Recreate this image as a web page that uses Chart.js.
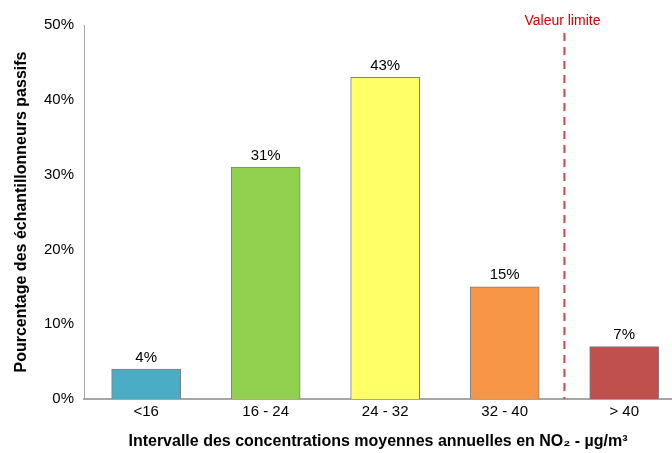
<!DOCTYPE html>
<html>
<head>
<meta charset="utf-8">
<script src="https://cdn.jsdelivr.net/npm/chart.js@4.4.1/dist/chart.umd.min.js"></script>
<style>
  html, body { margin: 0; padding: 0; background: #fff; }
  #wrap { width: 672px; height: 453px; }
</style>
</head>
<body>
<div id="wrap"><canvas id="chart" width="672" height="453"></canvas></div>
<script>
// data
const categories = ["<16", "16 - 24", "24 - 32", "32 - 40", "> 40"];
const shares = [4, 31, 43, 15, 7];
const barColors = ["#4bacc6", "#92d050", "#ffff66", "#f79646", "#c0504d"];
const yTicks = [0, 10, 20, 30, 40, 50];
const limitPosition = 3.5; // between "32 - 40" and "> 40"
const limitLabel = "Valeur limite";

const font = "Arial, 'Liberation Sans', sans-serif";

// value labels above each bar
const barLabels = {
  id: "barLabels",
  afterDatasetsDraw(chart) {
    const ctx = chart.ctx;
    const meta = chart.getDatasetMeta(0);
    ctx.save();
    ctx.font = "15px " + font;
    ctx.fillStyle = "#000";
    ctx.textAlign = "center";
    ctx.textBaseline = "bottom";
    meta.data.forEach((bar, i) => {
      ctx.fillText(shares[i] + "%", bar.x, bar.y - 4);
    });
    ctx.restore();
  }
};

// dashed limit line + its label
const limitLine = {
  id: "limitLine",
  afterDatasetsDraw(chart) {
    const ctx = chart.ctx;
    const x = chart.scales.x.getPixelForValue(limitPosition);
    const area = chart.chartArea;
    ctx.save();
    ctx.strokeStyle = "#c9474b";
    ctx.lineWidth = 2;
    ctx.setLineDash([8, 6]);
    ctx.beginPath();
    ctx.moveTo(x, area.top + 8);
    ctx.lineTo(x, area.bottom);
    ctx.stroke();
    ctx.setLineDash([]);
    ctx.font = "14px " + font;
    ctx.fillStyle = "#d00000";
    ctx.textAlign = "center";
    ctx.textBaseline = "alphabetic";
    ctx.fillText(limitLabel, x - 2, area.top);
    ctx.restore();
  }
};

new Chart(document.getElementById("chart"), {
  type: "bar",
  data: {
    datasets: [{
      data: shares.map((v, i) => ({ x: i, y: v })),
      backgroundColor: barColors,
      borderColor: "#7f7f7f",
      borderWidth: 1,
      barThickness: 69
    }]
  },
  options: {
    responsive: false,
    animation: false,
    layout: { padding: { top: 25, right: 0, left: 0, bottom: 0 } },
    plugins: { legend: { display: false }, tooltip: { enabled: false } },
    scales: {
      x: {
        type: "linear",
        offset: false,
        min: -0.52,
        max: 4.4,
        afterBuildTicks: (s) => { s.ticks = categories.map((_, i) => ({ value: i })); },
        afterFit: (s) => { s.height = 54; },
        grid: { display: false, drawTicks: false },
        border: { display: true, color: "#a6a6a6", width: 2 },
        ticks: {
          padding: 4,
          maxRotation: 0,
          autoSkip: false,
          color: "#000",
          font: { family: font, size: 15 },
          callback: (v) => categories[v] ?? ""
        },
        title: {
          display: true,
          text: "Intervalle des concentrations moyennes annuelles en NO₂ - µg/m³",
          color: "#000",
          font: { family: font, size: 16, weight: "bold" },
          padding: { top: 2, bottom: 2 }
        }
      },
      y: {
        min: 0,
        max: 50,
        afterBuildTicks: (s) => { s.ticks = yTicks.map((v) => ({ value: v })); },
        afterFit: (s) => { s.width = 84; },
        grid: { display: false, drawTicks: false },
        border: { display: true, color: "#a6a6a6", width: 1 },
        ticks: {
          padding: 10,
          color: "#000",
          font: { family: font, size: 15 },
          callback: (v) => v + "%"
        },
        title: {
          display: true,
          text: "Pourcentage des échantillonneurs passifs",
          color: "#000",
          font: { family: font, size: 16, weight: "bold" },
          padding: { top: 12, bottom: 12 }
        }
      }
    }
  },
  plugins: [barLabels, limitLine]
});
</script>
</body>
</html>
